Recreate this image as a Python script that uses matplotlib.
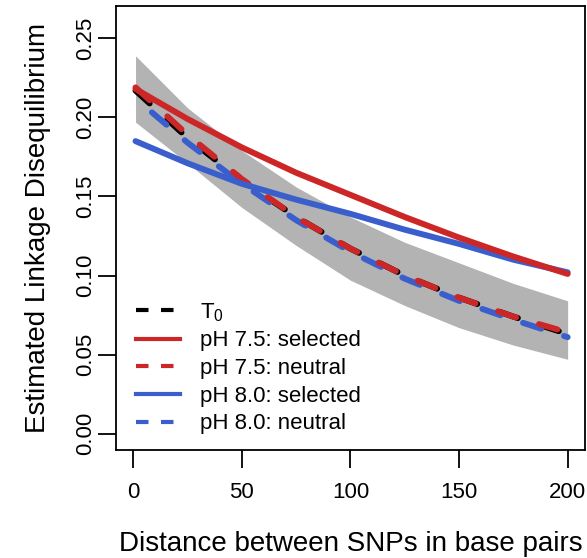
import matplotlib
matplotlib.use("Agg")
import matplotlib.pyplot as plt
from matplotlib.lines import Line2D

plt.rcParams['font.family'] = ['Liberation Sans', 'DejaVu Sans']

# distance between SNPs (bp)
dist = [1, 25, 50, 75, 100, 125, 150, 175, 200]

# estimated LD curves
t0 = [0.217, 0.187, 0.160, 0.137, 0.117, 0.100, 0.086, 0.074, 0.063]
ph75_sel = [0.218, 0.199, 0.181, 0.165, 0.151, 0.137, 0.124, 0.112, 0.101]
ph75_neu = [0.219, 0.189, 0.161, 0.137, 0.117, 0.100, 0.086, 0.074, 0.064]
ph80_sel = [0.185, 0.171, 0.158, 0.148, 0.139, 0.129, 0.120, 0.110, 0.102]
ph80_neu = [0.212, 0.184, 0.158, 0.135, 0.115, 0.098, 0.084, 0.072, 0.061]

# confidence band around T0
band_lo = [0.197, 0.171, 0.143, 0.119, 0.097, 0.081, 0.067, 0.056, 0.047]
band_hi = [0.239, 0.206, 0.179, 0.156, 0.137, 0.121, 0.108, 0.095, 0.084]

xticks = [0, 50, 100, 150, 200]
yticks = [0.00, 0.05, 0.10, 0.15, 0.20, 0.25]

red = "#CD2626"
blue = "#3A5FCD"
lw = 4.3
dash = (3.2, 4.0)

fig = plt.figure(figsize=(5.87, 5.58), dpi=100)
ax = fig.add_axes([0.1976, 0.1935, 0.7990, 0.7955])

ax.fill_between(dist, band_lo, band_hi, color="#B3B3B3", lw=0)
ax.plot(dist, t0, color="black", lw=lw, linestyle=(0, dash), dash_capstyle="round")
ax.plot(dist, ph80_neu, color=blue, lw=lw, linestyle=(3.6, dash), dash_capstyle="round")
ax.plot(dist, ph75_neu, color=red, lw=lw, linestyle=(0, dash), dash_capstyle="round")
ax.plot(dist, ph80_sel, color=blue, lw=lw, solid_capstyle="round")
ax.plot(dist, ph75_sel, color=red, lw=lw, solid_capstyle="round")

ax.set_xlim(-8, 208)
ax.set_ylim(-0.0104, 0.2704)
ax.set_xticks(xticks)
ax.set_xticklabels([str(v) for v in xticks])
ax.set_yticks(yticks)
ax.set_yticklabels(["%.2f" % v for v in yticks], rotation=90, va="center")
ax.tick_params(length=13, width=1.3, labelsize=16, pad=1)
ax.tick_params(axis="x", pad=10)
for s in ax.spines.values():
    s.set_linewidth(1.3)

ax.set_xlabel("Distance between SNPs in base pairs", fontsize=20, labelpad=20)
ax.set_ylabel("Estimated Linkage Disequilibrium", fontsize=20, labelpad=18)

handles = [
    Line2D([], [], color="black", lw=3, dashes=(3, 3)),
    Line2D([], [], color=red, lw=3),
    Line2D([], [], color=red, lw=3, dashes=(3, 3)),
    Line2D([], [], color=blue, lw=3),
    Line2D([], [], color=blue, lw=3, dashes=(3, 3)),
]
labels = ["$\\mathregular{T_0}$", "pH 7.5: selected", "pH 7.5: neutral",
          "pH 8.0: selected", "pH 8.0: neutral"]
ax.legend(handles, labels, loc="lower left", bbox_to_anchor=(0.0, -0.01),
          frameon=False, fontsize=16, handlelength=2.0, handletextpad=0.9,
          labelspacing=0.3, borderaxespad=0.5)

fig.savefig("out.png", dpi=100)
